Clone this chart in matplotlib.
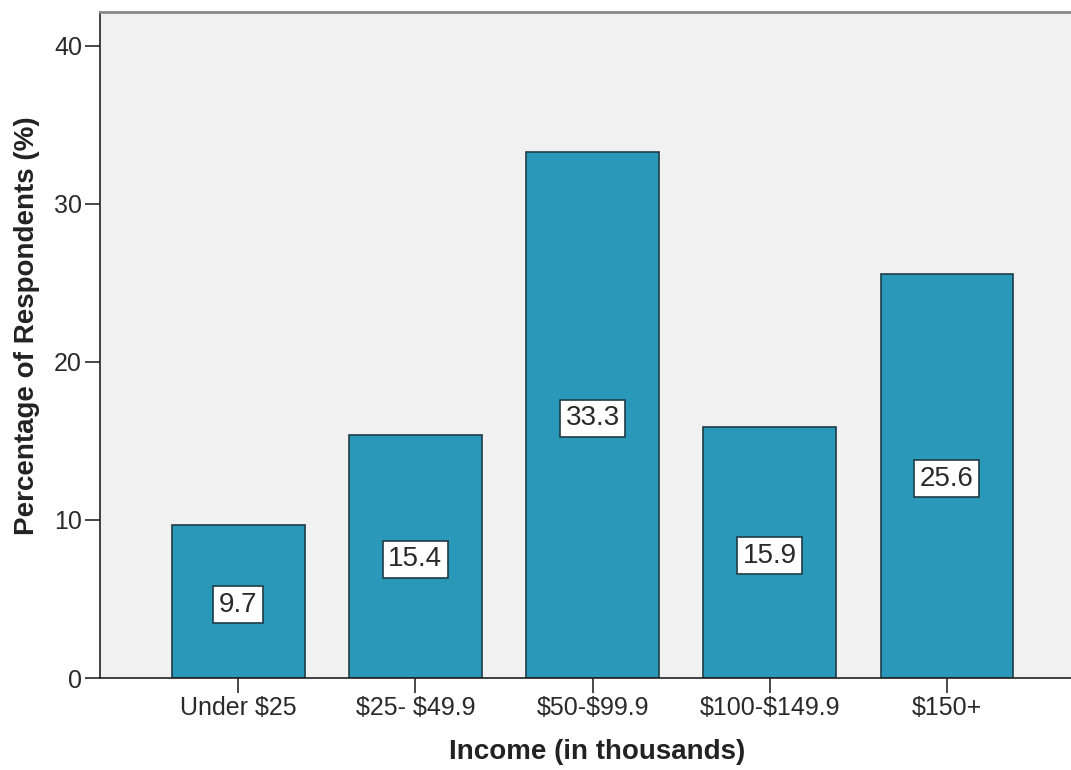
import matplotlib.pyplot as plt

categories = ["Under $25", "$25- $49.9", "$50-$99.9", "$100-$149.9", "$150+"]
percent = [9.7, 15.4, 33.3, 15.9, 25.6]

plt.rcParams['font.family'] = ['Liberation Sans', 'DejaVu Sans']
plt.rcParams['text.parse_math'] = False

fig = plt.figure(figsize=(10.71, 7.7), dpi=100)
ax = fig.add_axes([100 / 1071, 92 / 770, 1 - 100 / 1071, 666 / 770])
ax.set_facecolor("#f1f1f1")

x = range(len(categories))
ax.bar(x, percent, width=0.75, color="#2a98b8", edgecolor="#1e3c46", linewidth=1.2, zorder=2)

# value labels in white boxes at half bar height
for i, v in enumerate(percent):
    ax.text(i, v / 2 - 0.2, f"{v}", ha="center", va="center", fontsize=20, color="#2a2a2a", zorder=3,
            bbox=dict(boxstyle="square,pad=0.2", facecolor="white", edgecolor="#1e3c46", linewidth=1.2))

ax.set_xlim(-0.78, 4.70)
ax.set_ylim(0, 42.15)
ax.set_xticks(list(x))
ax.set_xticklabels(categories)
ax.set_yticks([0, 10, 20, 30, 40])
ax.tick_params(axis="both", length=11, width=1.2, labelsize=18, colors="#2a2a2a",
               direction="out", pad=2)

ax.spines["right"].set_visible(False)
ax.spines["top"].set_color("#888888")
ax.spines["top"].set_linewidth(2)
ax.spines["left"].set_color("#222222")
ax.spines["bottom"].set_color("#222222")
ax.spines["left"].set_linewidth(1.2)
ax.spines["bottom"].set_linewidth(1.2)

fig.text(597 / 1071, 1 - 752 / 770, "Income (in thousands)", fontsize=20, fontweight="bold",
         ha="center", va="center", color="#222222")
fig.text(27 / 1071, 1 - 326 / 770, "Percentage of Respondents (%)", fontsize=20, fontweight="bold",
         ha="center", va="center", rotation=90, color="#222222")

fig.savefig("out.png", dpi=100)
